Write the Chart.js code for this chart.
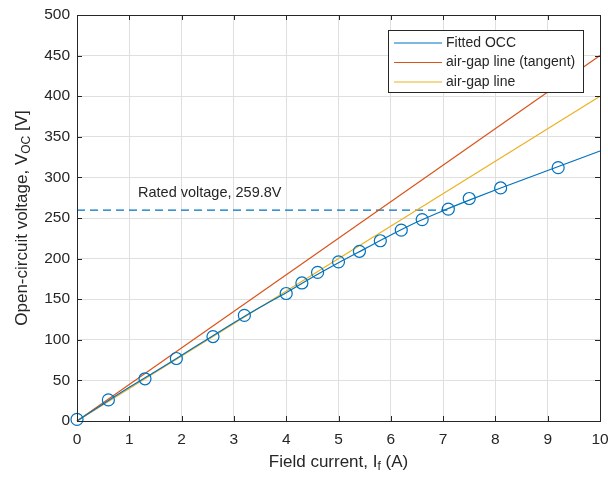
<!DOCTYPE html>
<html>
<head>
<meta charset="utf-8">
<script src="https://cdn.jsdelivr.net/npm/chart.js@4.4.1/dist/chart.umd.min.js"></script>
<style>
  html, body { margin: 0; padding: 0; background: #fff; }
  #wrap { width: 608px; height: 477px; }
</style>
</head>
<body>
<div id="wrap"><canvas id="occ" width="608" height="477"></canvas></div>
<script>
// measured open-circuit points (field current A, voltage V)
const measX = [0, 0.6, 1.3, 1.9, 2.6, 3.2, 4.0, 4.3, 4.6, 5.0, 5.4, 5.8, 6.2, 6.6, 7.1, 7.5, 8.1, 9.2];
const measY = [2, 26, 52, 77, 104, 130, 157, 170, 183, 196, 209, 222, 235, 248, 261, 274, 287, 312];

// fitted OCC curve
const fitX = [0, 0.5, 1, 1.5, 2, 2.5, 3, 3.5, 4, 4.5, 5, 5.5, 6, 6.5, 7, 7.5, 8, 8.5, 9, 9.5, 10];
const fitY = [0, 21, 41.5, 61, 81, 101, 121, 140, 158, 177, 195, 212, 229, 245, 259, 272, 284.5, 296.5, 308.5, 320.5, 332.5];

// air-gap lines
const tangentX = [0, 10];
const tangentY = [0, 450];
const airgapX = [0, 10];
const airgapY = [0, 400];

// rated voltage marker
const ratedV = 259.8;
const ratedX = [0, 7.08];

const xTicks = [0, 1, 2, 3, 4, 5, 6, 7, 8, 9, 10];
const yTicks = [0, 50, 100, 150, 200, 250, 300, 350, 400, 450, 500];

const BLUE = '#0072BD', RED = '#D95319', YELLOW = '#EDB120', INK = '#262626';
const FONT = 'Helvetica, "Liberation Sans", Arial, sans-serif';

const toPts = (xs, ys) => xs.map((x, i) => ({ x: x, y: ys[i] }));

// draws box, inward ticks, axis titles, legend and text label
const matlabLook = {
  id: 'matlabLook',
  afterDraw(chart) {
    const ctx = chart.ctx;
    const a = chart.chartArea;
    const sx = chart.scales.x, sy = chart.scales.y;
    ctx.save();
    ctx.strokeStyle = INK;
    ctx.lineWidth = 1;
    // inward tick marks
    ctx.beginPath();
    xTicks.forEach(v => {
      const px = Math.round(sx.getPixelForValue(v)) + 0.5;
      ctx.moveTo(px, a.bottom); ctx.lineTo(px, a.bottom - 5);
      ctx.moveTo(px, a.top); ctx.lineTo(px, a.top + 5);
    });
    yTicks.forEach(v => {
      const py = Math.round(sy.getPixelForValue(v)) + 0.5;
      ctx.moveTo(a.left, py); ctx.lineTo(a.left + 5, py);
      ctx.moveTo(a.right, py); ctx.lineTo(a.right - 5, py);
    });
    ctx.stroke();
    // box
    ctx.strokeRect(Math.round(a.left) + 0.5, Math.round(a.top) + 0.5,
      Math.round(a.right - a.left), Math.round(a.bottom - a.top));

    // rated voltage label
    ctx.fillStyle = INK;
    ctx.font = '14.5px ' + FONT;
    ctx.textBaseline = 'middle';
    ctx.textAlign = 'left';
    ctx.fillText('Rated voltage, 259.8V', 138, 193);

    // axis titles with subscripts
    const drawSub = (parts, cx, cy) => {
      let total = 0;
      parts.forEach(p => { ctx.font = p[1] + 'px ' + FONT; p.w = ctx.measureText(p[0]).width; total += p.w; });
      let x = cx - total / 2;
      parts.forEach(p => {
        ctx.font = p[1] + 'px ' + FONT;
        ctx.fillText(p[0], x, cy + p[2]);
        x += p.w;
      });
    };
    ctx.textAlign = 'left';
    drawSub([['Field current, I', 17, 0], ['f', 12, 5], [' (A)', 17, 0]], (a.left + a.right) / 2, 462);
    ctx.save();
    ctx.translate(22, (a.top + a.bottom) / 2);
    ctx.rotate(-Math.PI / 2);
    drawSub([['Open-circuit voltage, V', 17, 0], ['OC', 12, 5], [' [V]', 17, 0]], 0, 0);
    ctx.restore();

    // legend
    const lx = 388.5, ly = 30.5, lw = 195, lh = 62;
    ctx.fillStyle = '#fff';
    ctx.fillRect(lx, ly, lw, lh);
    ctx.strokeStyle = INK;
    ctx.strokeRect(lx, ly, lw, lh);
    const items = [['Fitted OCC', BLUE, 43], ['air-gap line (tangent)', RED, 62.5], ['air-gap line', YELLOW, 82]];
    ctx.font = '14px ' + FONT;
    items.forEach(it => {
      ctx.strokeStyle = it[1];
      ctx.lineWidth = 1.2;
      ctx.beginPath();
      ctx.moveTo(394, it[2]); ctx.lineTo(442, it[2]);
      ctx.stroke();
      ctx.fillStyle = INK;
      ctx.fillText(it[0], 446, it[2]);
    });
    ctx.restore();
  }
};

new Chart(document.getElementById('occ'), {
  type: 'scatter',
  data: {
    datasets: [
      {
        label: 'Measured',
        data: toPts(measX, measY),
        showLine: false,
        pointStyle: 'circle',
        pointRadius: 6,
        pointBorderWidth: 1.2,
        pointBorderColor: BLUE,
        pointBackgroundColor: 'rgba(0,0,0,0)',
        order: 0
      },
      {
        label: 'Fitted OCC',
        data: toPts(fitX, fitY),
        showLine: true,
        borderColor: BLUE,
        borderWidth: 1.2,
        pointRadius: 0,
        cubicInterpolationMode: 'monotone',
        order: 1
      },
      {
        label: 'air-gap line (tangent)',
        data: toPts(tangentX, tangentY),
        showLine: true,
        borderColor: RED,
        borderWidth: 1.2,
        pointRadius: 0,
        order: 3
      },
      {
        label: 'air-gap line',
        data: toPts(airgapX, airgapY),
        showLine: true,
        borderColor: YELLOW,
        borderWidth: 1.2,
        pointRadius: 0,
        order: 2
      },
      {
        label: 'Rated voltage',
        data: ratedX.map(x => ({ x: x, y: ratedV })),
        showLine: true,
        borderColor: BLUE,
        borderWidth: 1.2,
        borderDash: [8, 5],
        pointRadius: 0,
        order: 4
      }
    ]
  },
  options: {
    responsive: false,
    animation: false,
    clip: false,
    layout: { padding: { top: 15, right: 8, left: 0, bottom: 0 } },
    plugins: {
      legend: { display: false },
      tooltip: { enabled: false }
    },
    scales: {
      x: {
        type: 'linear',
        min: 0, max: 10,
        afterBuildTicks: s => { s.ticks = xTicks.map(v => ({ value: v })); },
        afterFit: s => { s.height = 56; s.paddingLeft = 0; s.paddingRight = 0; },
        ticks: { color: INK, font: { family: FONT, size: 15.5 }, padding: 9, maxRotation: 0 },
        grid: { color: '#dfdfdf', drawTicks: false },
        border: { display: false }
      },
      y: {
        type: 'linear',
        min: 0, max: 500,
        afterBuildTicks: s => { s.ticks = yTicks.map(v => ({ value: v })); },
        afterFit: s => { s.width = 77; s.paddingTop = 0; s.paddingBottom = 0; },
        ticks: { color: INK, font: { family: FONT, size: 15.5 }, padding: 7 },
        grid: { color: '#dfdfdf', drawTicks: false },
        border: { display: false }
      }
    }
  },
  plugins: [matlabLook]
});
</script>
</body>
</html>
